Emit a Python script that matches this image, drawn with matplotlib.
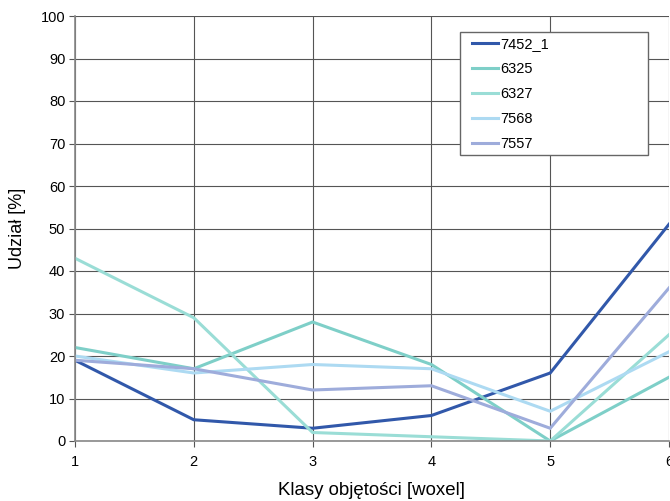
import matplotlib
matplotlib.use("Agg")
import matplotlib.pyplot as plt
from matplotlib.patches import Rectangle

plt.rcParams['font.family'] = ['Liberation Sans', 'DejaVu Sans']

classes = [1, 2, 3, 4, 5, 6]
series_names = ["7452_1", "6325", "6327", "7568", "7557"]
s_7452_1 = [19, 5, 3, 6, 16, 51]
s_6325 = [22, 17, 28, 18, 0, 15]
s_6327 = [43, 29, 2, 1, 0, 25]
s_7568 = [20, 16, 18, 17, 7, 21]
s_7557 = [19, 17, 12, 13, 3, 36]
colors = ["#3158AA", "#7ECFC8", "#9ADDD6", "#ADDAF2", "#9EACDB"]
y_ticks = [0, 10, 20, 30, 40, 50, 60, 70, 80, 90, 100]

W, H = 670, 501
fig = plt.figure(figsize=(6.7, 5.01), dpi=100)
ax = fig.add_axes([75/W, 1-441/H, 594/W, (441-16)/H])

for name, vals, c in zip(series_names, [s_7452_1, s_6325, s_6327, s_7568, s_7557], colors):
    ax.plot(classes, vals, color=c, lw=2.2, label=name, solid_joinstyle='miter')

ax.set_xlim(1, 6)
ax.set_ylim(0, 100)
ax.set_xticks(classes)
ax.set_yticks(y_ticks)
ax.grid(True, color="#555555", lw=0.8)
ax.set_axisbelow(True)
for sp in ['top', 'right']:
    ax.spines[sp].set_visible(False)
for sp in ['left', 'bottom']:
    ax.spines[sp].set_color("#888888")
    ax.spines[sp].set_linewidth(1.2)
ax.tick_params(axis='both', direction='out', length=4, color="#555555",
               labelsize=10.5)
ax.tick_params(axis='y', pad=3)
ax.tick_params(axis='x', pad=6)
ax.set_xlabel("Klasy objętości [woxel]", fontsize=13.4)
ax.xaxis.set_label_coords(0.5, -(482-441)/425, transform=ax.transAxes)
ax.set_ylabel("Udział [%]", fontsize=13)
ax.yaxis.set_label_coords(-(75-26)/594, 0.5, transform=ax.transAxes)

# legend frame drawn separately so padding can be set independently
frame = Rectangle((460/W, 1-155/H), (648-460)/W, (155-32)/H,
                  transform=fig.transFigure, facecolor="white",
                  edgecolor="#666666", lw=1.0, zorder=5, clip_on=False)
ax.add_patch(frame)

leg = ax.legend(loc='upper left', bbox_to_anchor=(472/W, 1-37.5/H),
                bbox_transform=fig.transFigure,
                frameon=False, fontsize=10.5, handlelength=1.75,
                labelspacing=0.74, borderpad=0.0, handletextpad=0.2,
                borderaxespad=0)
leg.set_zorder(10)

fig.savefig("out.png", dpi=100)
